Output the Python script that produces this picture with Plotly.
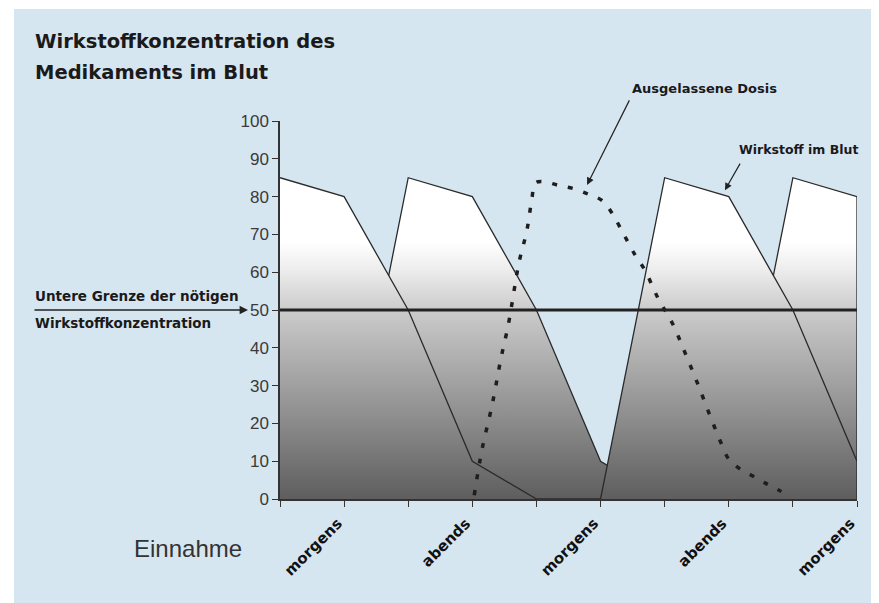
import plotly.graph_objects as go

# ---------------- data ----------------
time_ticks = list(range(10))
morning_dose = [85, 80, 50, 10, 0, 0, 85, 80, 50, 10]
evening_dose = [0, 0, 85, 80, 50, 10, 0, 0, 85, 80]

missed_x = [3.03, 3.15, 3.31, 3.45, 3.56, 3.73, 3.85, 3.93, 3.98, 4.10, 4.34, 4.60,
            4.84, 5.02, 5.18, 5.30, 5.54, 5.69, 5.90, 6.12, 6.32, 6.51, 6.69, 6.88,
            6.99, 7.13, 7.35, 7.57, 7.82]
missed_y = [1, 13, 25, 37.5, 46, 62.7, 71, 79.6, 83.6, 84, 83, 82,
            80.4, 79, 75.6, 72, 64.5, 60.6, 53, 46.5, 38.6, 30.7, 22.8, 14.8,
            10.8, 8.5, 6.3, 4.2, 2.0]

intake_pos = [0.9, 2.9, 4.9, 6.9, 8.9]
intake_labels = ["morgens", "abends", "morgens", "abends", "morgens"]
y_ticks = list(range(0, 101, 10))
threshold = 50

# ---------------- layout helpers ----------------
OFF = 8                      # page body margin in the browser
WIN_W, WIN_H = 879, 603
W, H = WIN_W - OFF, WIN_H - OFF
L, R, T, B = 280 - OFF, 22, 121 - OFF, 104
PW, PH = W - L - R, H - T - B


def px_x(px):
    return (px - OFF - L) / PW


def px_y(py):
    return (H - B - (py - OFF)) / PH


BG = "#d6e6f1"
LINE = "#2a2a2a"
grad = [[0, "#5e5e5e"], [0.2, "#8a8a8a"], [0.5, "#cbcbcb"], [0.6, "#ebebeb"],
        [0.68, "#ffffff"], [1, "#ffffff"]]
BOLD = "DejaVu Sans"

fig = go.Figure()

for series in (evening_dose, morning_dose):
    fig.add_trace(go.Scatter(
        x=time_ticks, y=series, mode="lines", fill="tozeroy",
        line=dict(color=LINE, width=1.3),
        fillgradient=dict(type="vertical", colorscale=grad, start=0, stop=100),
        hoverinfo="skip", showlegend=False,
    ))

fig.add_trace(go.Scatter(
    x=missed_x, y=missed_y, mode="lines",
    line=dict(color="#1e1e1e", width=3.5, dash="5px,11px", shape="spline"),
    hoverinfo="skip", showlegend=False,
))

shapes = [
    dict(type="rect", xref="paper", yref="paper", x0=px_x(14), x1=px_x(WIN_W) + 0.02,
         y0=px_y(WIN_H) - 0.02, y1=px_y(9), fillcolor=BG, line=dict(width=0), layer="below"),
    dict(type="line", xref="x", yref="y", x0=time_ticks[0], x1=time_ticks[-1],
         y0=threshold, y1=threshold, line=dict(color="#222222", width=3), layer="above"),
    dict(type="line", xref="x", yref="y", x0=time_ticks[-1], x1=time_ticks[-1],
         y0=0, y1=max(morning_dose[-1], evening_dose[-1]),
         line=dict(color=LINE, width=1.3), layer="above"),
]

annotations = [
    dict(text="<b>Wirkstoffkonzentration des</b>", xref="paper", yref="paper",
         x=px_x(33), y=px_y(41), xanchor="left", yanchor="middle", showarrow=False,
         font=dict(family=BOLD, size=19.5, color="#1a1a1a")),
    dict(text="<b>Medikaments im Blut</b>", xref="paper", yref="paper",
         x=px_x(33), y=px_y(72), xanchor="left", yanchor="middle", showarrow=False,
         font=dict(family=BOLD, size=19.5, color="#1a1a1a")),
    dict(text="<b>Ausgelassene Dosis</b>", xref="paper", yref="paper",
         x=px_x(630), y=px_y(88), xanchor="left", yanchor="middle", showarrow=False,
         font=dict(family=BOLD, size=13, color="#1a1a1a")),
    dict(text="", xref="x", yref="y", x=4.79, y=83.1, ax=43, ay=-86,
         showarrow=True, arrowhead=2, arrowsize=1.2, arrowwidth=1.2, arrowcolor="#222"),
    dict(text="<b>Wirkstoff im Blut</b>", xref="paper", yref="paper",
         x=px_x(737), y=px_y(149), xanchor="left", yanchor="middle", showarrow=False,
         font=dict(family=BOLD, size=12.5, color="#1a1a1a")),
    dict(text="", xref="x", yref="y", x=6.94, y=81.7, ax=16, ay=-28,
         showarrow=True, arrowhead=2, arrowsize=1.2, arrowwidth=1.2, arrowcolor="#222"),
    dict(text="<b>Untere Grenze der nötigen</b>", xref="paper", yref="paper",
         x=px_x(33), y=px_y(296), xanchor="left", yanchor="middle", showarrow=False,
         font=dict(family=BOLD, size=13.5, color="#1a1a1a")),
    dict(text="<b>Wirkstoffkonzentration</b>", xref="paper", yref="paper",
         x=px_x(33), y=px_y(323), xanchor="left", yanchor="middle", showarrow=False,
         font=dict(family=BOLD, size=13.5, color="#1a1a1a")),
    dict(text="", xref="paper", yref="y", x=px_x(248), y=threshold, ax=33 - 248, ay=0,
         showarrow=True, arrowhead=2, arrowsize=1.2, arrowwidth=1.4, arrowcolor="#222"),
    dict(text="Einnahme", xref="paper", yref="paper",
         x=px_x(132), y=px_y(548), xanchor="left", yanchor="middle", showarrow=False,
         font=dict(family="Liberation Sans", size=24, color="#333333")),
]

fig.update_layout(
    width=W, height=H,
    margin=dict(l=L, r=R, t=T, b=B),
    paper_bgcolor="white", plot_bgcolor="rgba(0,0,0,0)",
    shapes=shapes, annotations=annotations,
    xaxis=dict(
        range=[time_ticks[0], time_ticks[-1]], showgrid=False, zeroline=False,
        showline=True, linecolor="#333333", linewidth=1.5,
        tickmode="array", tickvals=intake_pos, ticktext=intake_labels,
        ticks="", tickangle=-45, ticklabelstandoff=8,
        tickfont=dict(family=BOLD, size=15, color="#111111", weight="bold"),
        minor=dict(tickmode="array", tickvals=time_ticks, ticks="outside",
                   ticklen=6, tickcolor="#333333", tickwidth=1.3, showgrid=False),
    ),
    yaxis=dict(
        range=[0, 100], showgrid=False, zeroline=False,
        showline=True, linecolor="#333333", linewidth=1.5,
        tickmode="array", tickvals=y_ticks, ticks="outside", ticklen=6,
        tickcolor="#333333", tickwidth=1.3,
        tickfont=dict(family="Liberation Sans", size=17, color="#3a3a3a"),
    ),
)

fig.write_html("out.html")
